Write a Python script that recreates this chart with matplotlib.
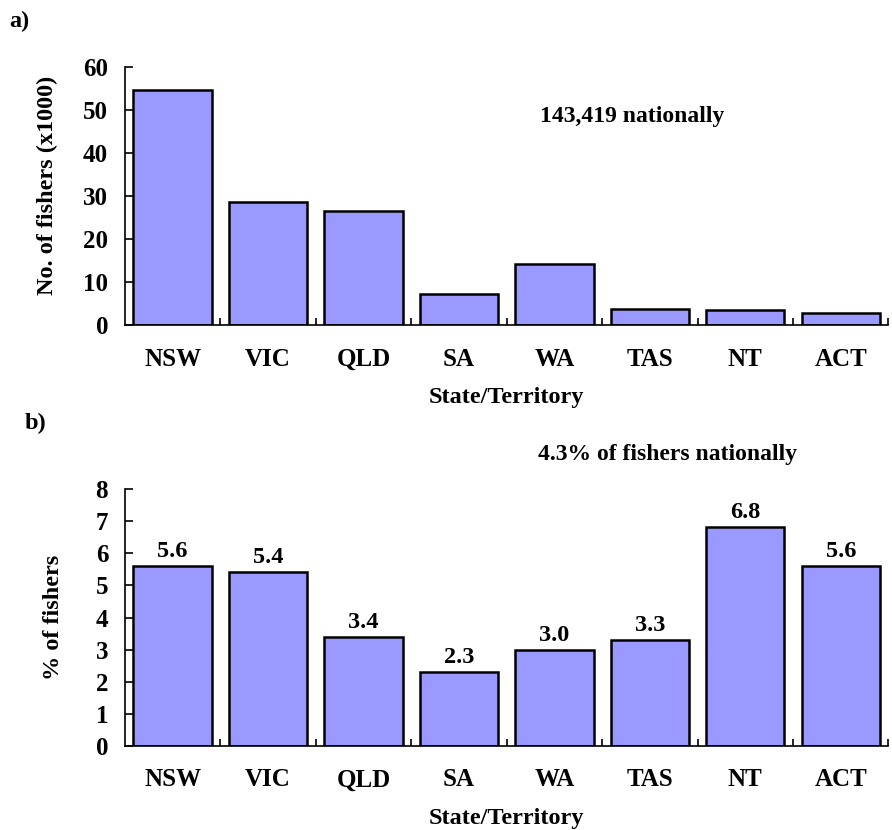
import numpy as np
import matplotlib
matplotlib.use("Agg")
import matplotlib.pyplot as plt
from matplotlib.ticker import FixedLocator

plt.rcParams['font.family'] = 'Liberation Serif'
plt.rcParams['font.weight'] = 'bold'
plt.rcParams['axes.labelweight'] = 'bold'
plt.rcParams['font.size'] = 17.5

states = ['NSW', 'VIC', 'QLD', 'SA', 'WA', 'TAS', 'NT', 'ACT']
fishers_k = [54.6, 28.7, 26.5, 7.3, 14.2, 3.7, 3.5, 2.8]
pct_fishers = [5.6, 5.4, 3.4, 2.3, 3.0, 3.3, 6.8, 5.6]

bar_col = '#9999FF'

fig = plt.figure(figsize=(8.92, 8.3), dpi=100)
ax1 = fig.add_axes([0.140, 0.608, 0.856, 0.311])
ax2 = fig.add_axes([0.140, 0.101, 0.856, 0.310])

x = np.arange(len(states))


def style(ax, ymax, step):
    ax.set_xlim(-0.5, len(states) - 0.5)
    ax.set_ylim(0, ymax)
    ax.set_yticks(np.arange(0, ymax + step / 2, step))
    ax.spines['top'].set_visible(False)
    ax.spines['right'].set_visible(False)
    ax.spines['left'].set_linewidth(1.2)
    ax.spines['bottom'].set_linewidth(1.2)
    ax.set_xticks(x)
    ax.set_xticklabels(states)
    ax.tick_params(axis='both', labelsize=18)
    ax.tick_params(axis='x', length=0, pad=16)
    ax.tick_params(axis='y', direction='in', length=6, width=1.2, pad=12)
    ax.xaxis.set_minor_locator(FixedLocator(np.arange(0.5, len(states), 1)))
    ax.tick_params(axis='x', which='minor', direction='in', length=5, width=1.2)
    ax.set_xlabel('State/Territory', labelpad=12)


ax1.bar(x, fishers_k, width=0.82, color=bar_col, edgecolor='black', linewidth=1.8)
style(ax1, 60, 10)
ax1.set_ylabel('No. of fishers (x1000)')
ax1.yaxis.set_label_coords(-0.088, 0.543)
ax1.text(0.665, 0.81, '143,419 nationally', transform=ax1.transAxes,
         ha='center', va='center', fontsize=17)

ax2.bar(x, pct_fishers, width=0.82, color=bar_col, edgecolor='black', linewidth=1.8)
style(ax2, 8, 1)
ax2.set_ylabel('% of fishers')
ax2.yaxis.set_label_coords(-0.080, 0.5)
for xi, v in zip(x, pct_fishers):
    ax2.annotate(f'{v:.1f}', (xi, v), xytext=(0, 3), textcoords='offset points',
                 ha='center', va='bottom')

fig.text(0.010, 0.974, 'a)', ha='left', va='center')
fig.text(0.028, 0.490, 'b)', ha='left', va='center')
fig.text(0.748, 0.452, '4.3% of fishers nationally', ha='center', va='center', fontsize=17)

fig.savefig('out.png', dpi=100)
